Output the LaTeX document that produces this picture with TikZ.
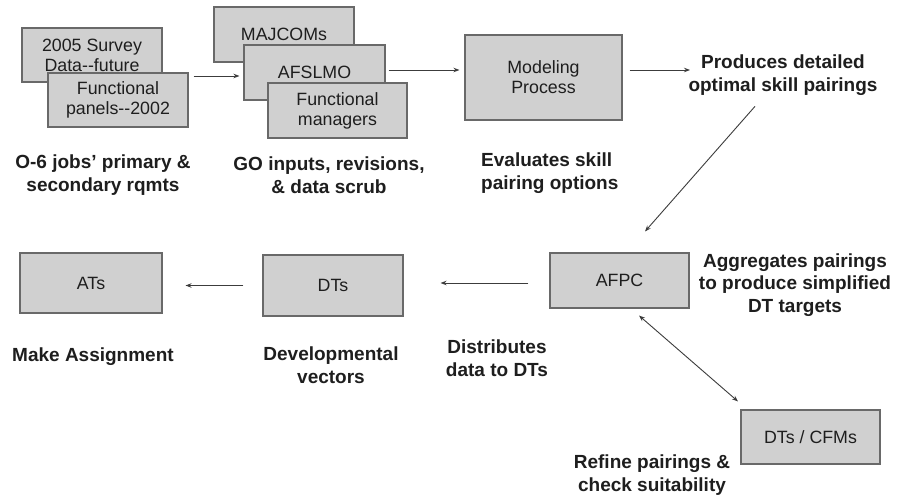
\documentclass[tikz,border=0pt]{standalone}
\usepackage{fontspec}
\setmainfont{Liberation Sans}
\usetikzlibrary{arrows.meta}
\definecolor{boxfill}{RGB}{208,208,208}
\definecolor{boxedge}{RGB}{105,105,105}
\definecolor{ink}{RGB}{30,30,30}
\definecolor{linegray}{RGB}{60,60,60}
\begin{document}
\begin{tikzpicture}[x=1pt,y=-1pt,
  box/.style={draw=boxedge,fill=boxfill,line width=1.1pt,rectangle,inner sep=0pt,
    text=ink,align=center,font=\fontsize{17.8}{20}\selectfont},
  lbl/.style={text=ink,align=center,inner sep=0pt,font=\fontsize{19}{22.5}\selectfont\bfseries},
  arr/.style={draw=linegray,line width=0.9pt,-{Stealth[length=6pt,width=4.5pt]}},
  darr/.style={draw=linegray,line width=0.9pt,{Stealth[length=6pt,width=4.5pt]}-{Stealth[length=6pt,width=4.5pt]}}]
\useasboundingbox[fill=white] (0,0) rectangle (897,497);

% top row: data sources
\node[box,minimum width=140pt,minimum height=54pt] (survey) at (92,55) {2005 Survey\\Data-{}-future};
\node[box,minimum width=140pt,minimum height=54pt] (panels) at (118,100) {Functional\\panels-{}-2002};

% general-officer inputs
\node[box,minimum width=140pt,minimum height=55pt] (majcoms) at (284,34.5) {MAJCOMs};
\node[box,minimum width=141pt,minimum height=55pt] (afslmo) at (314.5,72.5) {AFSLMO};
\node[box,minimum width=139pt,minimum height=55pt] (fm) at (337.5,110.5) {Functional\\managers};

% modelling
\node[box,minimum width=157pt,minimum height=85pt] (model) at (543.5,77.5) {Modeling\\Process};
\node[lbl] (produces) at (783,75) {Produces detailed\\optimal skill pairings};

% bottom row
\node[box,minimum width=142pt,minimum height=60pt] (ats) at (91,283) {ATs};
\node[box,minimum width=140pt,minimum height=61pt] (dts) at (333,285.5) {DTs};
\node[box,minimum width=139pt,minimum height=55pt] (afpc) at (619.5,280.5) {AFPC};
\node[box,minimum width=139pt,minimum height=54pt] (cfms) at (810.5,437) {DTs / CFMs};

% captions
\node[lbl] (cap1) at (103,175) {O-6 jobs’ primary \&\\secondary rqmts};
\node[lbl] (cap2) at (329,175) {GO inputs, revisions,\\\& data scrub};
\node[lbl,align=left,anchor=west] (cap3) at (481,173) {Evaluates skill\\pairing options};
\node[lbl] (cap4) at (795,285) {Aggregates pairings\\to produce simplified\\DT targets};
\node[lbl] (cap5) at (93,357) {Make Assignment};
\node[lbl] (cap6) at (331,365) {Developmental\\vectors};
\node[lbl] (cap7) at (497,358) {Distributes\\data to DTs};
\node[lbl] (cap8) at (652,475) {Refine pairings \&\\check suitability};

% connectors
\draw[arr] ([xshift=5pt,yshift=24pt]panels.east) coordinate (s1) -- ([xshift=-4pt]afslmo.west |- s1);
\draw[arr] ([xshift=3pt,yshift=2.5pt]afslmo.east) coordinate (s2) -- ([xshift=-5pt]model.west |- s2);
\draw[arr] ([xshift=7pt,yshift=7.5pt]model.east) coordinate (s3) -- (690,0 |- s3);
\draw[arr] ([xshift=-28pt,yshift=-11pt]produces.south) -- ([xshift=25.5pt,yshift=21pt]afpc.north);
\draw[arr] ([xshift=-21pt,yshift=-2.5pt]afpc.west) coordinate (s4) -- ([xshift=37pt]dts.east |- s4);
\draw[arr] ([xshift=-19pt]dts.west) coordinate (s5) -- ([xshift=23pt]ats.east |- s5);
\draw[darr] ([xshift=19.5pt,yshift=-7pt]afpc.south) -- ([xshift=-72.5pt,yshift=8pt]cfms.north);
\end{tikzpicture}
\end{document}
